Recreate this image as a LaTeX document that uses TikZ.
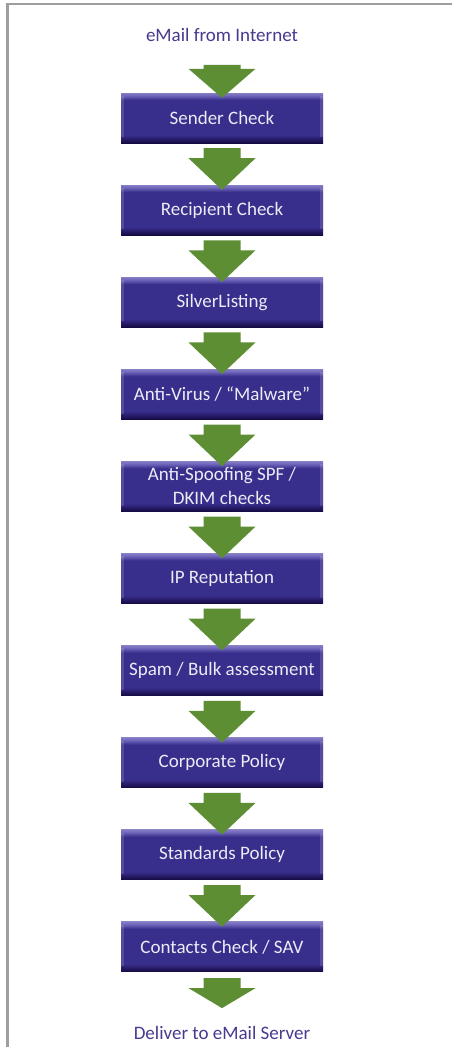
\documentclass[tikz,border=0pt]{standalone}
\usepackage{fontspec}
\setmainfont{Carlito}
\usetikzlibrary{calc}
\definecolor{bdark}{RGB}{20,10,66}
\definecolor{bmain}{RGB}{56,46,140}
\definecolor{blight}{RGB}{110,101,186}
\definecolor{agreen}{RGB}{94,142,52}
\definecolor{ltext}{RGB}{72,58,142}
\definecolor{btext}{RGB}{236,236,246}
\definecolor{framegray}{RGB}{158,158,158}
\pgfdeclareverticalshading{boxshade}{100bp}{color(0bp)=(bdark); color(25bp)=(bdark); color(27bp)=(bdark!75!bmain); color(33bp)=(bmain); color(68bp)=(bmain); color(72.5bp)=(blight); color(75bp)=(blight!85!white); color(100bp)=(blight)}
\tikzset{
  stepbox/.style={rectangle, shading=boxshade, minimum width=202pt, minimum height=50pt,
    inner sep=0pt, text=btext, align=center, font=\fontsize{19}{24}\selectfont},
  endlabel/.style={text=ltext, font=\fontsize{19}{22}\selectfont, inner sep=0pt},
  flowarrow/.style={fill=agreen},
  edgelight/.style={fill=white, fill opacity=0.14},
}
\begin{document}
\begin{tikzpicture}[x=1pt,y=-1pt]
\useasboundingbox (0,0) rectangle (452,1047);
\fill[white] (0,0) rectangle (452,1047);
\draw[framegray, line width=2.5pt] (7.5,1047) -- (7.5,4.2) -- (452,4.2);
\node[endlabel] (src) at (222,35) {eMail from Internet};
\foreach \t [count=\i from 0] in {Sender Check, Recipient Check, SilverListing, Anti-Virus / “Malware”, {Anti-Spoofing SPF /\\DKIM checks}, IP Reputation, Spam / Bulk assessment, Corporate Policy, Standards Policy, Contacts Check / SAV}{
  \node[stepbox] (b\i) at (222,118+92.1*\i) {\t};
  \fill[edgelight] ($(b\i.north west)+(0,3)$) rectangle ($(b\i.south west)+(3,-6)$);
  \fill[edgelight] ($(b\i.north east)+(-3,3)$) rectangle ($(b\i.south east)+(0,-6)$);
}
\node[endlabel] (dst) at (222,1033) {Deliver to eMail Server};
% top arrow
\fill[flowarrow] ($(b0.north)+(-18.5,-28)$) -- ++(37,0) -- ++(0,4) -- ++(15,0)
   -- ([yshift=-5pt]b0.north) -- ($(b0.north)+(-33.5,-24)$) -- ++(15,0) -- cycle;
\foreach \i [evaluate=\i as \j using int(\i+1)] in {0,...,8}{
  \fill[flowarrow] ($(b\i.south)+(-18.5,5)$) -- ++(37,0) -- ++(0,10) -- ++(15,0)
     -- ([yshift=-5pt]b\j.north) -- ($(b\i.south)+(-33.5,15)$) -- ++(15,0) -- cycle;
}
% bottom arrow
\fill[flowarrow] ($(b9.south)+(-18.5,6)$) -- ++(37,0) -- ++(0,10) -- ++(15,0)
   -- ($(b9.south)+(0,36)$) -- ($(b9.south)+(-33.5,16)$) -- ++(15,0) -- cycle;
\end{tikzpicture}
\end{document}
